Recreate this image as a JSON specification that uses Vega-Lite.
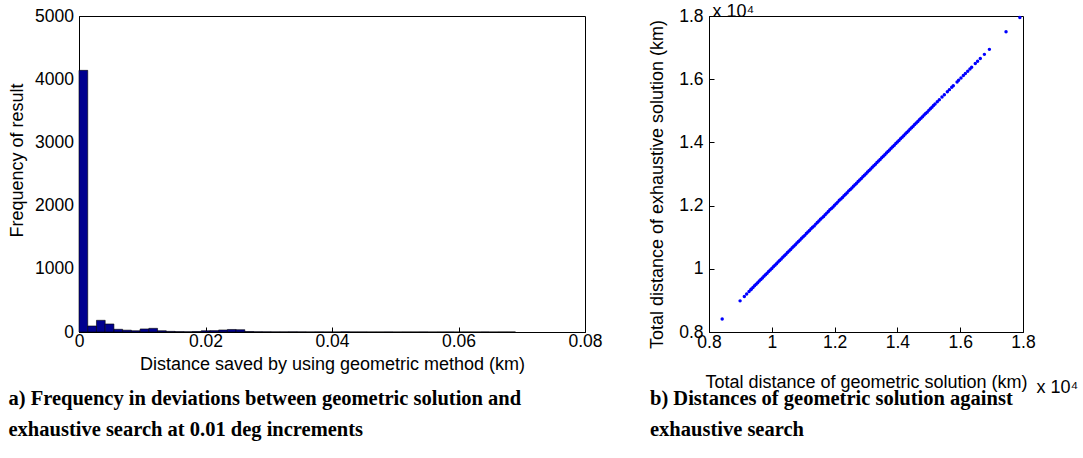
{
  "$schema": "https://vega.github.io/schema/vega-lite/v6.json",
  "background": "white",
  "padding": {"left": 8, "top": 1, "right": 2, "bottom": 2},
  "bounds": "flush",
  "spacing": 124,
  "config": {
    "font": "Liberation Sans",
    "view": {"stroke": "black", "strokeWidth": 1},
    "axis": {
      "domainColor": "black", "domainWidth": 1, "tickColor": "black", "tickSize": -5,
      "labelColor": "black", "titleColor": "black",
      "labelFont": "Liberation Sans", "titleFont": "Liberation Sans",
      "labelFontSize": 17.5, "titleFontSize": 18, "titleFontWeight": "normal",
      "grid": false, "labelOverlap": false, "labelFlush": false
    },
    "title": {"font": "Liberation Serif", "fontSize": 20.5, "fontWeight": "bold", "color": "black", "orient": "bottom", "anchor": "start", "frame": "group", "lineHeight": 31}
  },
  "datasets": {
    "hist": [
      {"lo": 0, "hi": 0.00138, "n": 4140},
      {"lo": 0.00138, "hi": 0.00276, "n": 95},
      {"lo": 0.00276, "hi": 0.00414, "n": 185},
      {"lo": 0.00414, "hi": 0.00552, "n": 127},
      {"lo": 0.00552, "hi": 0.0069, "n": 43},
      {"lo": 0.0069, "hi": 0.00828, "n": 29},
      {"lo": 0.00828, "hi": 0.00966, "n": 20},
      {"lo": 0.00966, "hi": 0.01104, "n": 48},
      {"lo": 0.01104, "hi": 0.01242, "n": 58},
      {"lo": 0.01242, "hi": 0.0138, "n": 20},
      {"lo": 0.0138, "hi": 0.01518, "n": 10},
      {"lo": 0.01518, "hi": 0.01656, "n": 6},
      {"lo": 0.01656, "hi": 0.01794, "n": 4},
      {"lo": 0.01794, "hi": 0.01932, "n": 8},
      {"lo": 0.01932, "hi": 0.0207, "n": 20},
      {"lo": 0.0207, "hi": 0.02208, "n": 22},
      {"lo": 0.02208, "hi": 0.02346, "n": 32},
      {"lo": 0.02346, "hi": 0.02484, "n": 40},
      {"lo": 0.02484, "hi": 0.02622, "n": 36},
      {"lo": 0.02622, "hi": 0.0276, "n": 8},
      {"lo": 0.0276, "hi": 0.02898, "n": 4},
      {"lo": 0.02898, "hi": 0.03036, "n": 3},
      {"lo": 0.03036, "hi": 0.03174, "n": 2},
      {"lo": 0.03174, "hi": 0.03312, "n": 2},
      {"lo": 0.03312, "hi": 0.0345, "n": 3},
      {"lo": 0.0345, "hi": 0.03588, "n": 2},
      {"lo": 0.03588, "hi": 0.03726, "n": 1},
      {"lo": 0.03726, "hi": 0.03864, "n": 2},
      {"lo": 0.03864, "hi": 0.04002, "n": 1},
      {"lo": 0.04002, "hi": 0.0414, "n": 1},
      {"lo": 0.0414, "hi": 0.04278, "n": 2},
      {"lo": 0.04278, "hi": 0.04416, "n": 1},
      {"lo": 0.04416, "hi": 0.04554, "n": 1},
      {"lo": 0.04554, "hi": 0.04692, "n": 1},
      {"lo": 0.04692, "hi": 0.0483, "n": 1},
      {"lo": 0.0483, "hi": 0.04968, "n": 1},
      {"lo": 0.04968, "hi": 0.05106, "n": 0},
      {"lo": 0.05106, "hi": 0.05244, "n": 1},
      {"lo": 0.05244, "hi": 0.05382, "n": 1},
      {"lo": 0.05382, "hi": 0.0552, "n": 1},
      {"lo": 0.0552, "hi": 0.05658, "n": 0},
      {"lo": 0.05658, "hi": 0.05796, "n": 1},
      {"lo": 0.05796, "hi": 0.05934, "n": 1},
      {"lo": 0.05934, "hi": 0.06072, "n": 0},
      {"lo": 0.06072, "hi": 0.0621, "n": 1},
      {"lo": 0.0621, "hi": 0.06348, "n": 0},
      {"lo": 0.06348, "hi": 0.06486, "n": 1},
      {"lo": 0.06486, "hi": 0.06624, "n": 0},
      {"lo": 0.06624, "hi": 0.06762, "n": 1},
      {"lo": 0.06762, "hi": 0.069, "n": 1}
    ],
    "pts": [
      {"g": 8420, "e": 8412}, {"g": 8990, "e": 8985}, {"g": 9125, "e": 9122}, {"g": 9200, "e": 9205}, {"g": 9275, "e": 9280}, {"g": 9330, "e": 9338},
      {"g": 9350, "e": 9362}, {"g": 9400, "e": 9410}, {"g": 9450, "e": 9466}, {"g": 9500, "e": 9512}, {"g": 9550, "e": 9558}, {"g": 9600, "e": 9614},
      {"g": 9650, "e": 9662}, {"g": 9700, "e": 9710}, {"g": 9750, "e": 9766}, {"g": 9800, "e": 9812}, {"g": 9850, "e": 9858}, {"g": 9900, "e": 9914},
      {"g": 9950, "e": 9962}, {"g": 10000, "e": 10010}, {"g": 10050, "e": 10066}, {"g": 10100, "e": 10112}, {"g": 10150, "e": 10158}, {"g": 10200, "e": 10214},
      {"g": 10250, "e": 10262}, {"g": 10300, "e": 10310}, {"g": 10350, "e": 10366}, {"g": 10400, "e": 10412}, {"g": 10450, "e": 10458}, {"g": 10500, "e": 10514},
      {"g": 10550, "e": 10562}, {"g": 10600, "e": 10610}, {"g": 10650, "e": 10666}, {"g": 10700, "e": 10712}, {"g": 10750, "e": 10758}, {"g": 10800, "e": 10814},
      {"g": 10850, "e": 10862}, {"g": 10900, "e": 10910}, {"g": 10950, "e": 10966}, {"g": 11000, "e": 11012}, {"g": 11050, "e": 11058}, {"g": 11100, "e": 11114},
      {"g": 11150, "e": 11162}, {"g": 11200, "e": 11210}, {"g": 11250, "e": 11266}, {"g": 11300, "e": 11312}, {"g": 11350, "e": 11358}, {"g": 11400, "e": 11414},
      {"g": 11450, "e": 11462}, {"g": 11500, "e": 11510}, {"g": 11550, "e": 11566}, {"g": 11600, "e": 11612}, {"g": 11650, "e": 11658}, {"g": 11700, "e": 11714},
      {"g": 11750, "e": 11762}, {"g": 11800, "e": 11810}, {"g": 11850, "e": 11866}, {"g": 11900, "e": 11912}, {"g": 11950, "e": 11958}, {"g": 12000, "e": 12014},
      {"g": 12050, "e": 12062}, {"g": 12100, "e": 12110}, {"g": 12150, "e": 12166}, {"g": 12200, "e": 12212}, {"g": 12250, "e": 12258}, {"g": 12300, "e": 12314},
      {"g": 12350, "e": 12362}, {"g": 12400, "e": 12410}, {"g": 12450, "e": 12466}, {"g": 12500, "e": 12512}, {"g": 12550, "e": 12558}, {"g": 12600, "e": 12614},
      {"g": 12650, "e": 12662}, {"g": 12700, "e": 12710}, {"g": 12750, "e": 12766}, {"g": 12800, "e": 12812}, {"g": 12850, "e": 12858}, {"g": 12900, "e": 12914},
      {"g": 12950, "e": 12962}, {"g": 13000, "e": 13010}, {"g": 13050, "e": 13066}, {"g": 13100, "e": 13112}, {"g": 13150, "e": 13158}, {"g": 13200, "e": 13214},
      {"g": 13250, "e": 13262}, {"g": 13300, "e": 13310}, {"g": 13350, "e": 13366}, {"g": 13400, "e": 13412}, {"g": 13450, "e": 13458}, {"g": 13500, "e": 13514},
      {"g": 13550, "e": 13562}, {"g": 13600, "e": 13610}, {"g": 13650, "e": 13666}, {"g": 13700, "e": 13712}, {"g": 13750, "e": 13758}, {"g": 13800, "e": 13814},
      {"g": 13850, "e": 13862}, {"g": 13900, "e": 13910}, {"g": 13950, "e": 13966}, {"g": 14000, "e": 14012}, {"g": 14050, "e": 14058}, {"g": 14100, "e": 14114},
      {"g": 14150, "e": 14162}, {"g": 14200, "e": 14210}, {"g": 14250, "e": 14266}, {"g": 14300, "e": 14312}, {"g": 14350, "e": 14358}, {"g": 14400, "e": 14414},
      {"g": 14450, "e": 14462}, {"g": 14500, "e": 14510}, {"g": 14550, "e": 14566}, {"g": 14600, "e": 14612}, {"g": 14650, "e": 14658}, {"g": 14700, "e": 14714},
      {"g": 14750, "e": 14762}, {"g": 14800, "e": 14810}, {"g": 14850, "e": 14866}, {"g": 14900, "e": 14912}, {"g": 14950, "e": 14958}, {"g": 15000, "e": 15014},
      {"g": 15050, "e": 15062}, {"g": 15100, "e": 15110}, {"g": 15150, "e": 15166},
      {"g": 15200, "e": 15214}, {"g": 15270, "e": 15284}, {"g": 15335, "e": 15350}, {"g": 15420, "e": 15434}, {"g": 15495, "e": 15510}, {"g": 15590, "e": 15604},
      {"g": 15655, "e": 15670}, {"g": 15730, "e": 15744}, {"g": 15780, "e": 15796}, {"g": 15900, "e": 15914}, {"g": 15950, "e": 15966}, {"g": 16025, "e": 16040},
      {"g": 16100, "e": 16114}, {"g": 16165, "e": 16180}, {"g": 16240, "e": 16254}, {"g": 16310, "e": 16326}, {"g": 16365, "e": 16380}, {"g": 16480, "e": 16494},
      {"g": 16555, "e": 16570}, {"g": 16640, "e": 16656}, {"g": 16770, "e": 16786}, {"g": 16930, "e": 16944}, {"g": 17460, "e": 17500}, {"g": 17900, "e": 17950}
    ]
  },
  "hconcat": [
    {
      "width": 506,
      "height": 316,
      "data": {"name": "hist"},
      "title": {"text": ["a) Frequency in deviations between geometric solution and", "exhaustive search at 0.01 deg increments"], "dx": -70.5, "offset": 15},
      "mark": {"type": "bar", "fill": "#00008f", "stroke": "black", "strokeWidth": 0.6},
      "encoding": {
        "x": {"field": "lo", "type": "quantitative", "scale": {"domain": [0, 0.08], "nice": false, "zero": false},
          "axis": {"values": [0, 0.02, 0.04, 0.06, 0.08], "labelExpr": "datum.value === 0 ? '0' : format(datum.value, '.2f')", "labelPadding": 5, "title": "Distance saved by using geometric method (km)", "titlePadding": 6}},
        "x2": {"field": "hi"},
        "y": {"field": "n", "type": "quantitative", "scale": {"domain": [0, 5000], "nice": false},
          "axis": {"values": [0, 1000, 2000, 3000, 4000, 5000], "format": "d", "labelPadding": 10.5, "title": "Frequency of result", "titlePadding": 8, "titleY": 144}},
        "y2": {"datum": 0}
      }
    },
    {
      "width": 314,
      "height": 316,
      "data": {"name": "pts"},
      "title": {"text": ["b) Distances of geometric solution against", "exhaustive search"], "dx": -59, "offset": -7},
      "layer": [
        {
          "mark": {"type": "point", "filled": true, "color": "#0000ff", "size": 12, "opacity": 1, "strokeWidth": 0},
          "encoding": {
            "x": {"field": "g", "type": "quantitative", "scale": {"domain": [8000, 18000], "nice": false, "zero": false},
              "axis": {"values": [8000, 10000, 12000, 14000, 16000, 18000], "labelExpr": "format(datum.value / 10000, '~g')", "labelPadding": 6, "title": "Total distance of geometric solution (km)", "titlePadding": 23}},
            "y": {"field": "e", "type": "quantitative", "scale": {"domain": [8000, 18000], "nice": false, "zero": false},
              "axis": {"values": [8000, 10000, 12000, 14000, 16000, 18000], "labelExpr": "format(datum.value / 10000, '~g')", "labelPadding": 11, "title": "Total distance of exhaustive solution (km)", "titlePadding": 12, "titleY": 168}}
          }
        },
        {
          "mark": {"type": "point", "opacity": 0},
          "encoding": {
            "x": {"field": "g", "type": "quantitative",
              "axis": {"orient": "top", "labels": false, "ticks": false, "domain": false, "title": "x 10⁴", "titleX": 327, "titleY": 376, "titleAlign": "left", "titleBaseline": "alphabetic", "titleAngle": 0}},
            "y": {"field": "e", "type": "quantitative",
              "axis": {"orient": "right", "labels": false, "ticks": false, "domain": false, "title": "x 10⁴", "titleX": -311, "titleY": 0, "titleAlign": "left", "titleBaseline": "alphabetic", "titleAngle": 0}}
          }
        }
      ],
      "resolve": {"axis": {"x": "independent", "y": "independent"}}
    }
  ]
}
